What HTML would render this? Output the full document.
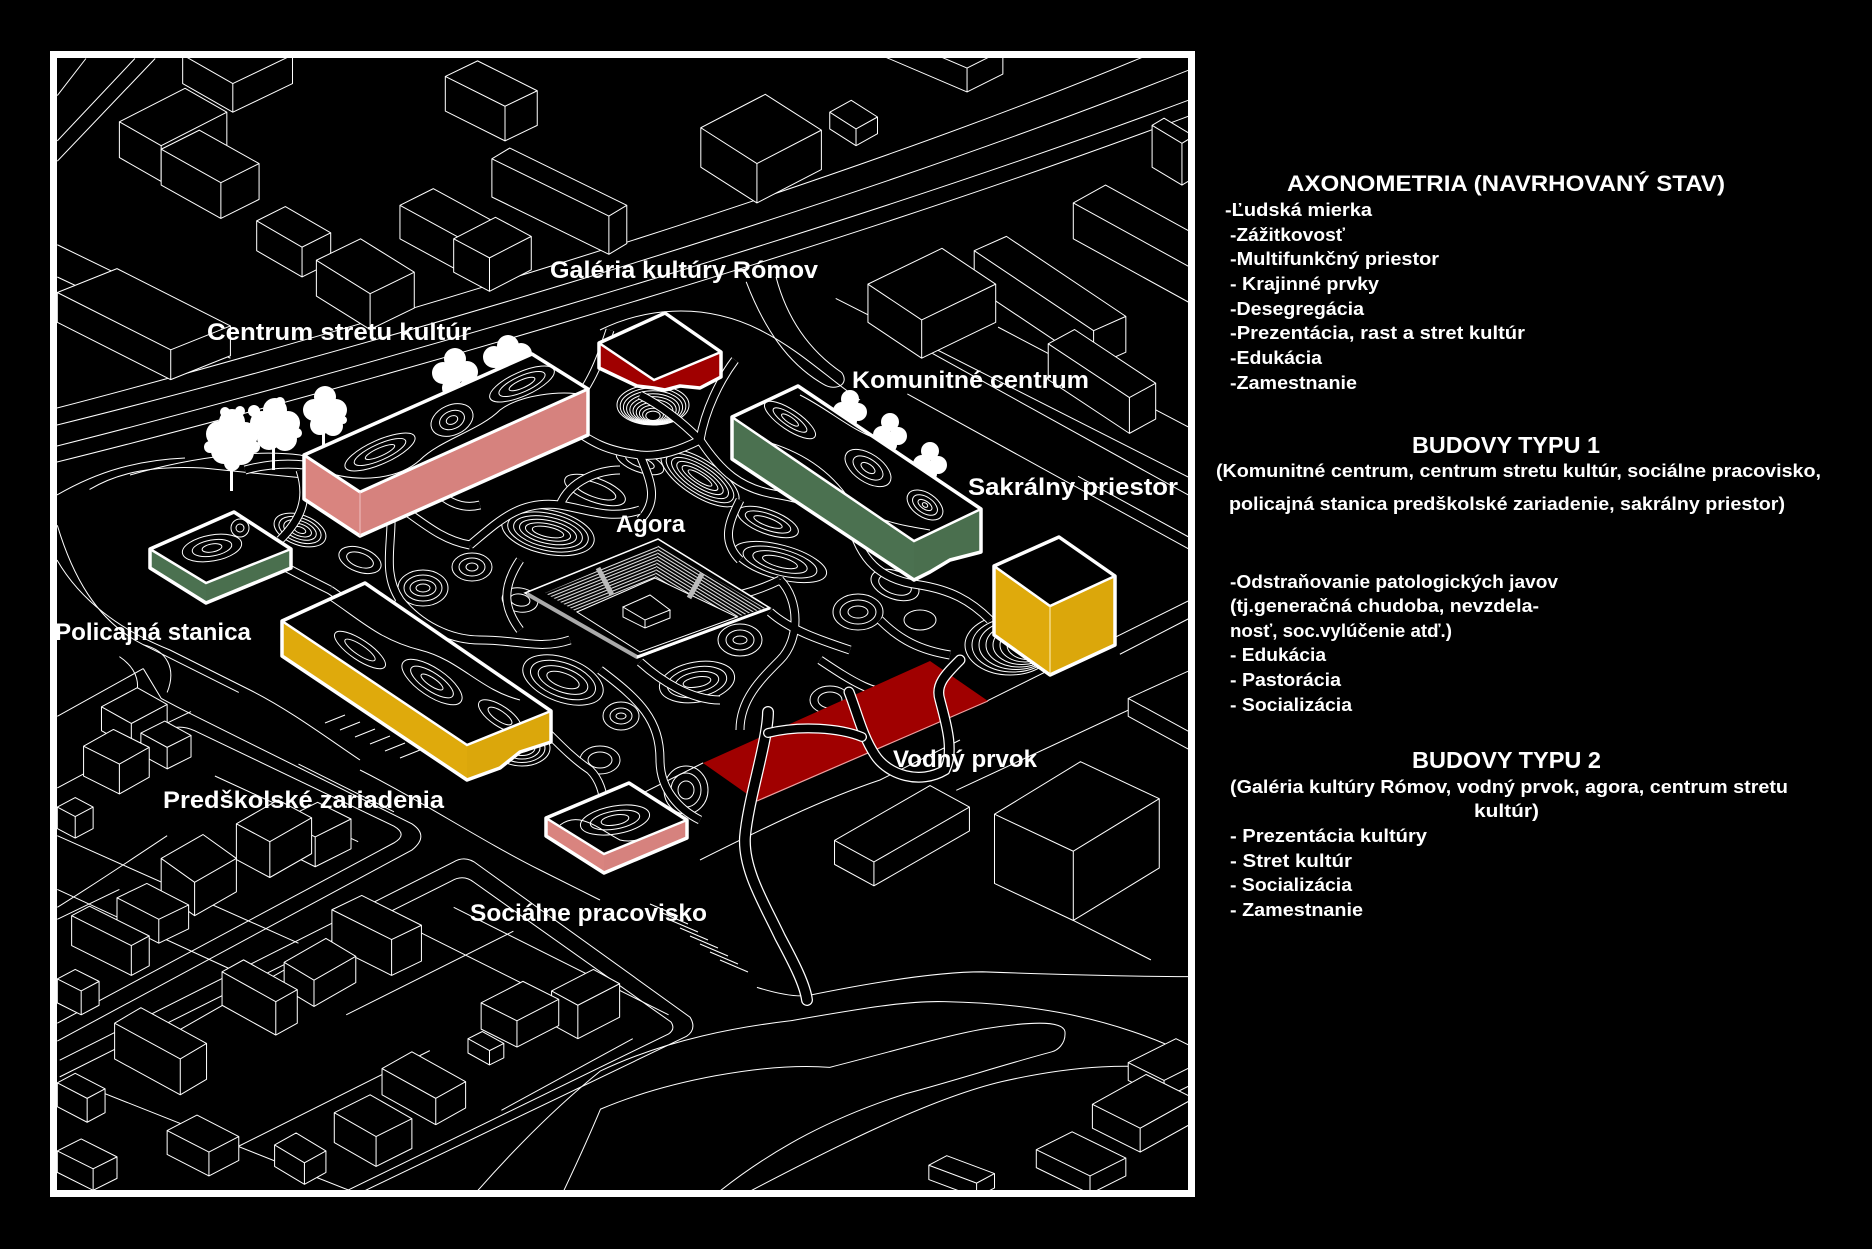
<!DOCTYPE html>
<html><head><meta charset="utf-8">
<style>
html,body{margin:0;padding:0;background:#000;}
svg{display:block;}
text{font-family:"Liberation Sans","DejaVu Sans",sans-serif;font-weight:bold;fill:#fff;}
</style></head>
<body>
<svg width="1872" height="1249" viewBox="0 0 1872 1249" xmlns="http://www.w3.org/2000/svg">
<defs>
<clipPath id="fr"><rect x="57" y="58" width="1131" height="1132"/></clipPath>
<clipPath id="cC"><polygon points="304,455 532,354 588,389 360,492"/></clipPath>
<clipPath id="cK"><polygon points="732,417 798,386 981,509 914,541"/></clipPath>
<clipPath id="cP"><polygon points="282,621 365,583 551,711 467,745"/></clipPath>
<clipPath id="cS"><polygon points="546,818 629,783 687,820 604,854"/></clipPath>
<clipPath id="cL"><polygon points="150,549 234,512 291,549 206,583"/></clipPath>
<pattern id="hA" width="3" height="3" patternUnits="userSpaceOnUse" patternTransform="rotate(-22)"><rect width="3" height="1.1" fill="#e0e0e0"/></pattern>
<pattern id="hB" width="3" height="3" patternUnits="userSpaceOnUse" patternTransform="rotate(31.6)"><rect width="3" height="1.1" fill="#e0e0e0"/></pattern>
<g id="walks">
<path d="M245,470 C300,455 350,470 390,500 C420,520 440,540 470,545"/>
<path d="M390,500 C395,540 380,570 400,600 C420,625 450,640 480,640"/>
<path d="M470,545 C500,520 520,500 560,505 C590,510 610,520 640,510"/>
<path d="M560,420 C590,440 600,450 640,455 C660,457 680,450 700,440"/>
<path d="M640,455 C650,480 660,500 640,520"/>
<path d="M700,440 C720,470 740,490 780,495 C810,500 830,510 850,520"/>
<path d="M740,500 C730,520 720,540 740,560"/>
<path d="M480,640 C520,640 540,650 570,640"/>
<path d="M600,670 C640,700 660,720 660,760 C660,790 680,810 700,820"/>
<path d="M780,580 C800,600 800,640 780,660 C760,680 740,700 740,730"/>
<path d="M850,520 C860,560 880,580 920,585 C950,590 970,600 990,620"/>
<path d="M700,600 C730,600 760,590 780,580"/>
<path d="M510,700 C540,720 560,750 590,770 C610,790 600,820 620,840"/>
<path d="M330,590 C360,610 390,640 420,650 C450,660 470,690 500,700"/>
<path d="M820,660 C850,680 880,700 900,690"/>
<path d="M610,330 C600,360 590,390 560,420"/>
<path d="M480,470 C500,450 520,430 560,420"/>
<path d="M880,540 C900,520 920,520 950,540"/>
<path d="M700,440 C705,410 720,380 735,360"/>
<path d="M240,540 C270,560 300,575 330,590"/>
<path d="M520,560 C500,590 505,610 520,630"/>
<path d="M770,612 C790,630 820,640 850,650"/>
<path d="M640,662 C660,680 690,700 720,700"/>
<path d="M560,505 C570,480 600,470 620,470"/>
<path d="M400,600 C380,640 390,680 420,700"/>
<path d="M300,470 C310,500 300,520 280,540"/>
<path d="M700,440 C680,420 660,405 640,395"/>
<path d="M430,480 C440,500 460,510 480,505"/>
<path d="M880,620 C900,640 920,650 950,655"/>
</g>
</defs>
<rect width="1872" height="1249" fill="#000"/>

<g clip-path="url(#fr)">
<g fill="none" stroke="#fff" stroke-width="1">
<path d="M57,408 C300,345 800,200 1143,57"/>
<path d="M57,425 C300,365 800,225 1189,70"/>
<path d="M57,446 C300,385 800,245 1189,100"/>
<path d="M57,462 C300,402 800,262 1189,116"/>
</g>
<g transform="scale(1.19388)" fill="none" stroke="#fff" stroke-width="0.85">
<path d="M72,49 L48,80 M113,49 L48,118 M130,49 L48,135 M48,232 L193,300 M48,205 L120,240"/>
<path d="M625,236 C640,275 660,305 690,322 C700,328 712,322 705,312 C680,295 660,270 650,232"/>
<path d="M781,296 L996,415 M836,274 L996,358 M760,330 L996,460 M903,399 L996,450 M700,250 L996,400"/>
<path d="M827,587 L996,503 M801,662 L996,571 M938,548 L996,518 M899,771 L964,804 M589,639 L503,682"/>
<path d="M48,872 L345,712 Q360,700 345,690 L160,598 Q148,592 135,585 L120,560"/>
<path d="M48,857 L330,706 Q342,699 330,692 L163,612 Q150,606 138,612 L48,660"/>
<path d="M50,888 L380,722 Q390,716 400,724 L578,852 Q584,862 575,868 L300,1000"/>
<path d="M50,902 L378,738 Q388,732 397,739 L562,856 Q566,862 560,866 L285,1000"/>
<path d="M48,700 L250,790 M48,745 L200,815 M60,905 L300,1000 M48,770 L100,745 M120,880 L260,800 M200,960 L360,880 M250,640 L330,680 M180,650 L300,705"/>
<path d="M330,770 L500,855 M290,850 L430,780 M420,930 L530,870 M380,760 L560,850 M110,620 L160,596 M48,600 L120,560"/>
<path d="M396,1002 Q450,940 503,897 C560,870 620,860 662,855 C720,845 760,838 791,839 C840,840 870,845 887,848 C930,856 970,870 996,884"/>
<path d="M470,1002 Q490,960 503,929 C560,905 640,890 695,894 C750,880 790,868 823,862 C860,856 890,854 892,864 C893,875 885,880 881,881 C840,892 800,905 759,916 C700,935 650,960 600,1000"/>
<path d="M634,827 C650,832 665,835 676,834 C720,825 780,814 823,814 C880,816 940,818 996,818"/>
<path d="M624,1000 C700,960 780,920 839,906 C900,892 950,890 996,897"/>
<path d="M48,760 C80,740 110,720 140,700"/>
<path d="M75,410 C100,395 130,390 170,392 L250,400 M48,440 C60,480 80,520 120,540 L200,580"/>
<path d="M120,540 C140,545 148,560 140,580 M100,550 C115,560 120,575 110,590"/>
</g>
<g stroke="#fff" stroke-width="1">
<path d="M670,920 l28,12 M680,928 l28,12 M690,936 l28,12 M700,944 l28,12 M710,952 l28,12 M720,960 l28,12 M660,912 l28,12 M650,904 l28,12"/>
<path d="M345,715 l-20,8 M360,722 l-20,8 M375,729 l-20,8 M390,736 l-20,8 M405,743 l-20,8 M420,750 l-20,8"/>
</g>
<g transform="scale(1.19388)" fill="#000" stroke="#fff" stroke-width="0.85" stroke-linejoin="round">
<path d="M153,70 l42,24 l50,-24 l0,-24 l-42,-24 l-50,24 z m0,-24 l42,24 l50,-24 m-50,24 l0,24"/>
<path d="M735,45 l75,32 l30,-15 l0,-20 l-75,-32 l-30,15 z m0,-20 l75,32 l30,-15 m-30,15 l0,20"/>
<path d="M373,93 l50,25 l27,-13 l0,-29 l-50,-25 l-27,13 z m0,-29 l50,25 l27,-13 m-27,13 l0,29"/>
<path d="M695,108 l22,14 l18,-10 l0,-14 l-22,-14 l-18,10 z m0,-14 l22,14 l18,-10 m-18,10 l0,14"/>
<path d="M100,132 l35,20 l55,-28 l0,-30 l-35,-20 l-55,28 z m0,-30 l35,20 l55,-28 m-55,28 l0,30"/>
<path d="M587,140 l47,30 l54,-28 l0,-33 l-47,-30 l-54,28 z m0,-33 l47,30 l54,-28 m-54,28 l0,33"/>
<path d="M965,140 l25,15 l10,-6 l0,-35 l-25,-15 l-10,6 z m0,-35 l25,15 l10,-6 m-10,6 l0,35"/>
<path d="M135,155 l50,28 l32,-16 l0,-30 l-50,-28 l-32,16 z m0,-30 l50,28 l32,-16 m-32,16 l0,30"/>
<path d="M412,165 l98,48 l15,-9 l0,-32 l-98,-48 l-15,9 z m0,-32 l98,48 l15,-9 m-15,9 l0,32"/>
<path d="M899,200 l100,55 l27,-15 l0,-30 l-100,-55 l-27,15 z m0,-30 l100,55 l27,-15 m-27,15 l0,30"/>
<path d="M335,200 l55,30 l28,-14 l0,-28 l-55,-30 l-28,14 z m0,-28 l55,30 l28,-14 m-28,14 l0,28"/>
<path d="M215,210 l38,22 l24,-12 l0,-25 l-38,-22 l-24,12 z m0,-25 l38,22 l24,-12 m-24,12 l0,25"/>
<path d="M380,228 l30,16 l35,-18 l0,-28 l-30,-16 l-35,18 z m0,-28 l30,16 l35,-18 m-35,18 l0,28"/>
<path d="M816,240 l100,67 l27,-12 l0,-30 l-100,-67 l-27,12 z m0,-30 l100,67 l27,-12 m-27,12 l0,30"/>
<path d="M265,248 l45,28 l37,-18 l0,-30 l-45,-28 l-37,18 z m0,-30 l45,28 l37,-18 m-37,18 l0,30"/>
<path d="M727,270 l45,30 l62,-30 l0,-32 l-45,-30 l-62,30 z m0,-32 l45,30 l62,-30 m-62,30 l0,32"/>
<path d="M48,270 l95,48 l50,-20 l0,-25 l-95,-48 l-50,20 z m0,-25 l95,48 l50,-20 m-50,20 l0,25"/>
<path d="M878,318 l68,45 l22,-12 l0,-30 l-68,-45 l-22,12 z m0,-30 l68,45 l22,-12 m-22,12 l0,30"/>
<path d="M945,600 l55,30 l55,-25 l0,-15 l-55,-30 l-55,25 z m0,-15 l55,30 l55,-25 m-55,25 l0,15"/>
<path d="M85,612 l25,14 l30,-16 l0,-20 l-25,-14 l-30,16 z m0,-20 l25,14 l30,-16 m-30,16 l0,20"/>
<path d="M118,632 l22,12 l20,-10 l0,-18 l-22,-12 l-20,10 z m0,-18 l22,12 l20,-10 m-20,10 l0,18"/>
<path d="M70,650 l30,15 l25,-14 l0,-25 l-30,-15 l-25,14 z m0,-25 l30,15 l25,-14 m-25,14 l0,25"/>
<path d="M48,694 l15,8 l15,-8 l0,-18 l-15,-8 l-15,8 z m0,-18 l15,8 l15,-8 m-15,8 l0,18"/>
<path d="M236,712 l28,14 l30,-15 l0,-25 l-28,-14 l-30,15 z m0,-25 l28,14 l30,-15 m-30,15 l0,25"/>
<path d="M198,720 l28,15 l35,-20 l0,-30 l-28,-15 l-35,20 z m0,-30 l28,15 l35,-20 m-35,20 l0,30"/>
<path d="M699,724 l33,18 l80,-46 l0,-20 l-33,-18 l-80,46 z m0,-20 l33,18 l80,-46 m-80,46 l0,20"/>
<path d="M833,740 l66,31 l72,-44 l0,-58 l-66,-31 l-72,44 z m0,-58 l66,31 l72,-44 m-72,44 l0,58"/>
<path d="M135,747 l28,20 l35,-20 l0,-28 l-28,-20 l-35,20 z m0,-28 l28,20 l35,-20 m-35,20 l0,28"/>
<path d="M98,772 l35,18 l25,-12 l0,-20 l-35,-18 l-25,12 z m0,-20 l35,18 l25,-12 m-25,12 l0,20"/>
<path d="M278,792 l50,25 l25,-12 l0,-30 l-50,-25 l-25,12 z m0,-30 l50,25 l25,-12 m-25,12 l0,30"/>
<path d="M60,792 l50,25 l15,-8 l0,-25 l-50,-25 l-15,8 z m0,-25 l50,25 l15,-8 m-15,8 l0,25"/>
<path d="M238,828 l25,15 l35,-20 l0,-22 l-25,-15 l-35,20 z m0,-22 l25,15 l35,-20 m-35,20 l0,22"/>
<path d="M48,840 l20,10 l15,-8 l0,-20 l-20,-10 l-15,8 z m0,-20 l20,10 l15,-8 m-15,8 l0,20"/>
<path d="M186,842 l45,25 l18,-10 l0,-28 l-45,-25 l-18,10 z m0,-28 l45,25 l18,-10 m-18,10 l0,28"/>
<path d="M462,858 l22,12 l35,-18 l0,-28 l-22,-12 l-35,18 z m0,-28 l22,12 l35,-18 m-35,18 l0,28"/>
<path d="M403,862 l30,15 l35,-18 l0,-22 l-30,-15 l-35,18 z m0,-22 l30,15 l35,-18 m-35,18 l0,22"/>
<path d="M392,882 l18,10 l12,-6 l0,-12 l-18,-10 l-12,6 z m0,-12 l18,10 l12,-6 m-12,6 l0,12"/>
<path d="M96,887 l55,30 l22,-13 l0,-30 l-55,-30 l-22,13 z m0,-30 l55,30 l22,-13 m-22,13 l0,30"/>
<path d="M945,905 l30,15 l40,-20 l0,-15 l-30,-15 l-40,20 z m0,-15 l30,15 l40,-20 m-40,20 l0,15"/>
<path d="M320,917 l45,25 l25,-14 l0,-22 l-45,-25 l-25,14 z m0,-22 l45,25 l25,-14 m-25,14 l0,22"/>
<path d="M48,927 l25,13 l15,-8 l0,-20 l-25,-13 l-15,8 z m0,-20 l25,13 l15,-8 m-15,8 l0,20"/>
<path d="M915,945 l40,20 l45,-25 l0,-20 l-40,-20 l-45,25 z m0,-20 l40,20 l45,-25 m-45,25 l0,20"/>
<path d="M280,957 l35,20 l30,-15 l0,-25 l-35,-20 l-30,15 z m0,-25 l35,20 l30,-15 m-30,15 l0,25"/>
<path d="M140,967 l35,18 l25,-13 l0,-20 l-35,-18 l-25,13 z m0,-20 l35,18 l25,-13 m-25,13 l0,20"/>
<path d="M230,977 l25,15 l18,-10 l0,-18 l-25,-15 l-18,10 z m0,-18 l25,15 l18,-10 m-18,10 l0,18"/>
<path d="M868,978 l45,22 l30,-15 l0,-15 l-45,-22 l-30,15 z m0,-15 l45,22 l30,-15 m-30,15 l0,15"/>
<path d="M48,982 l30,15 l20,-10 l0,-18 l-30,-15 l-20,10 z m0,-18 l30,15 l20,-10 m-20,10 l0,18"/>
<path d="M778,988 l40,15 l15,-8 l0,-12 l-40,-15 l-15,8 z m0,-12 l40,15 l15,-8 m-15,8 l0,12"/>
</g>

<g fill="none" stroke="#fff" stroke-width="1">
<ellipse cx="653" cy="405" rx="36" ry="20"/><ellipse cx="653" cy="406.2" rx="32.8" ry="18.3"/><ellipse cx="653" cy="407.4" rx="29.6" ry="16.6"/><ellipse cx="653" cy="408.6" rx="26.4" ry="14.9"/><ellipse cx="653" cy="409.8" rx="23.2" ry="13.2"/><ellipse cx="653" cy="411" rx="20" ry="11.5"/><ellipse cx="653" cy="412.2" rx="16.8" ry="9.8"/><ellipse cx="653" cy="413.4" rx="13.6" ry="8.1"/><ellipse cx="653" cy="414.6" rx="10.4" ry="6.4"/><ellipse cx="653" cy="415.8" rx="7.2" ry="4.7"/>
<ellipse cx="1010" cy="645" rx="45" ry="30"/><ellipse cx="1013" cy="645" rx="41" ry="27"/><ellipse cx="1016" cy="645" rx="37" ry="24.5"/><ellipse cx="1019" cy="645" rx="33" ry="22"/><ellipse cx="1022" cy="645" rx="29" ry="19.5"/><ellipse cx="1025" cy="645" rx="25" ry="17"/><ellipse cx="1028" cy="645" rx="21" ry="14.5"/><ellipse cx="1031" cy="645" rx="17" ry="12"/>
<g transform="translate(700,478) rotate(33)"><ellipse rx="45" ry="18"/><ellipse rx="39" ry="15"/><ellipse rx="33" ry="12"/><ellipse rx="27" ry="9"/><ellipse rx="21" ry="6"/><ellipse rx="14" ry="3.5"/></g>
<g transform="translate(548,532) rotate(12)"><ellipse rx="47" ry="22"/><ellipse rx="41" ry="18.5"/><ellipse rx="35" ry="15"/><ellipse rx="29" ry="11.5"/><ellipse rx="23" ry="8"/><ellipse rx="16" ry="5"/></g>
<g transform="translate(595,490) rotate(20)"><ellipse rx="32" ry="12"/><ellipse rx="22" ry="7"/></g>
<g transform="translate(768,522) rotate(20)"><ellipse rx="32" ry="12"/><ellipse rx="24" ry="8"/><ellipse rx="15" ry="4"/></g>
<g transform="translate(780,562) rotate(15)"><ellipse rx="48" ry="17"/><ellipse rx="38" ry="13"/><ellipse rx="28" ry="9"/><ellipse rx="18" ry="5"/></g>
<g transform="translate(858,612)"><ellipse rx="25" ry="18"/><ellipse rx="18" ry="12"/><ellipse rx="10" ry="6"/></g>
<g transform="translate(563,680) rotate(20)"><ellipse rx="42" ry="22"/><ellipse rx="34" ry="17"/><ellipse rx="26" ry="12"/><ellipse rx="17" ry="7"/></g>
<g transform="translate(300,530) rotate(20)"><ellipse rx="27" ry="15"/><ellipse rx="22" ry="12"/><ellipse rx="17" ry="9"/><ellipse rx="12" ry="6"/><ellipse rx="6" ry="3"/></g>
<g transform="translate(423,588)"><ellipse rx="25" ry="18"/><ellipse rx="19" ry="13"/><ellipse rx="13" ry="8"/><ellipse rx="7" ry="4"/></g>
<g transform="translate(522,748)"><ellipse rx="28" ry="18"/><ellipse rx="23" ry="14.5"/><ellipse rx="18" ry="11"/><ellipse rx="13" ry="7.5"/><ellipse rx="8" ry="4"/></g>
<g transform="translate(697,682) rotate(-10)"><ellipse rx="38" ry="20"/><ellipse rx="30" ry="15"/><ellipse rx="22" ry="10"/><ellipse rx="14" ry="5"/></g>
<g transform="translate(686,790)"><ellipse rx="22" ry="24"/><ellipse rx="15" ry="17"/><ellipse rx="8" ry="9"/></g>
<g transform="translate(472,567)"><ellipse rx="20" ry="14"/><ellipse rx="13" ry="9"/><ellipse rx="6" ry="4"/></g>
<g transform="translate(895,585) rotate(20)"><ellipse rx="25" ry="14"/><ellipse rx="17" ry="9"/></g>
<g transform="translate(621,716)"><ellipse rx="18" ry="14"/><ellipse rx="11" ry="8"/><ellipse rx="5" ry="3"/></g>
<g transform="translate(740,640)"><ellipse rx="22" ry="16"/><ellipse rx="14" ry="10"/><ellipse rx="7" ry="4"/></g>
<g transform="translate(830,700)"><ellipse rx="20" ry="14"/><ellipse rx="12" ry="8"/></g>
<g transform="translate(360,560) rotate(20)"><ellipse rx="22" ry="12"/><ellipse rx="14" ry="7"/></g>
<g transform="translate(470,470) rotate(-20)"><ellipse rx="25" ry="12"/><ellipse rx="15" ry="6"/></g>
<g transform="translate(760,430) rotate(30)"><ellipse rx="22" ry="11"/><ellipse rx="13" ry="6"/></g>
<g transform="translate(450,720) rotate(20)"><ellipse rx="22" ry="11"/><ellipse rx="13" ry="6"/></g>
<g transform="translate(640,462) rotate(20)"><ellipse rx="25" ry="10"/><ellipse rx="15" ry="5"/></g>
<g transform="translate(820,470) rotate(30)"><ellipse rx="20" ry="9"/><ellipse rx="11" ry="4"/></g>
<g transform="translate(380,640)"><ellipse rx="18" ry="12"/><ellipse rx="10" ry="6"/></g>
<g transform="translate(600,760)"><ellipse rx="20" ry="14"/><ellipse rx="12" ry="8"/></g>
<g transform="translate(520,600) rotate(10)"><ellipse rx="18" ry="12"/><ellipse rx="10" ry="6"/></g>
<g transform="translate(920,620)"><ellipse rx="16" ry="10"/></g>
<path d="M130,475 C200,455 260,450 300,455 L360,470"/>
<path d="M57,495 C100,470 140,460 185,458"/>
<path d="M57,560 C80,600 120,630 170,650 L250,690 C290,710 330,740 360,760"/>
<path d="M600,330 C640,310 700,300 760,330 C800,350 830,380 860,400"/>
<path d="M360,770 C420,800 480,840 540,870 L600,900"/>
<path d="M700,860 C760,830 820,800 880,780 L960,740"/>
</g>

<use href="#walks" fill="none" stroke="#fff" stroke-width="9"/>
<use href="#walks" fill="none" stroke="#000" stroke-width="7"/>

<polygon points="525,593 658,539 770,608 637,658" fill="#000" stroke="#fff" stroke-width="1.5"/>
<polygon points="545,593 658,545 655,578 577,612" fill="url(#hA)"/>
<polygon points="658,545 765,608 737,617 655,578" fill="url(#hB)"/>
<polygon points="577,612 655,578 737,617 640,652" fill="#000" stroke="#fff" stroke-width="1"/>
<line x1="598" y1="568" x2="612" y2="595" stroke="#bbb" stroke-width="5"/>
<line x1="702" y1="574" x2="689" y2="598" stroke="#bbb" stroke-width="5"/>
<line x1="527" y1="594" x2="637" y2="657" stroke="#aaa" stroke-width="4"/>
<line x1="637" y1="657" x2="770" y2="608" stroke="#fff" stroke-width="3"/>
<path d="M623,607 L650,595 L670,610 L645,620 Z M623,607 L623,617 L645,628 L670,618 L670,610 M645,620 L645,628" fill="#000" stroke="#fff" stroke-width="1"/>

<polygon points="703,763 930,661 988,701 757,801" fill="#a00000"/>
<line x1="757" y1="801" x2="988" y2="701" stroke="#f0a0a0" stroke-width="1.2"/>
<g fill="none" stroke-linecap="round">
<path d="M768,712 C768,740 748,800 745,837 C743,870 765,905 780,937 C795,965 805,985 807,1000" stroke="#fff" stroke-width="12"/>
<path d="M768,712 C768,740 748,800 745,837 C743,870 765,905 780,937 C795,965 805,985 807,1000" stroke="#000" stroke-width="9.5"/>
<path d="M849,692 C858,715 862,735 875,755 C888,775 920,785 945,770 C955,750 945,720 940,700 C935,685 945,675 960,660" stroke="#fff" stroke-width="11"/>
<path d="M849,692 C858,715 862,735 875,755 C888,775 920,785 945,770 C955,750 945,720 940,700 C935,685 945,675 960,660" stroke="#000" stroke-width="8.5"/>
<path d="M768,733 C800,725 840,728 862,737" stroke="#fff" stroke-width="10"/>
<path d="M768,733 C800,725 840,728 862,737" stroke="#000" stroke-width="7.5"/>
</g>

<g fill="#fff">
<rect x="230" y="455" width="3" height="36"/><rect x="272" y="440" width="3" height="30"/><rect x="322" y="430" width="3" height="16"/>
<circle cx="232" cy="422" r="13"/><circle cx="219" cy="434" r="13"/><circle cx="245" cy="435" r="13"/><circle cx="224" cy="451" r="13"/><circle cx="241" cy="452" r="13"/><circle cx="232" cy="463" r="8"/><circle cx="210" cy="447" r="6"/><circle cx="254" cy="447" r="6"/><circle cx="232" cy="437" r="12"/><circle cx="225" cy="412" r="5"/><circle cx="240" cy="411" r="5"/>
<circle cx="275" cy="410" r="12"/><circle cx="262" cy="423" r="12"/><circle cx="288" cy="423" r="12"/><circle cx="269" cy="438" r="12"/><circle cx="285" cy="439" r="12"/><circle cx="254" cy="411" r="6"/><circle cx="297" cy="433" r="5"/><circle cx="275" cy="427" r="11"/><circle cx="280" cy="402" r="5"/>
<circle cx="325" cy="397" r="11"/><circle cx="314" cy="410" r="11"/><circle cx="336" cy="410" r="11"/><circle cx="320" cy="425" r="10"/><circle cx="333" cy="426" r="10"/><circle cx="325" cy="412" r="9"/><circle cx="343" cy="420" r="4"/>
<circle cx="455" cy="359" r="11"/><circle cx="443" cy="373" r="11"/><circle cx="467" cy="372" r="11"/><circle cx="452" cy="388" r="10"/><circle cx="468" cy="388" r="9"/><circle cx="455" cy="375" r="9"/>
<circle cx="508" cy="346" r="11"/><circle cx="494" cy="357" r="11"/><circle cx="521" cy="354" r="11"/><circle cx="505" cy="366" r="10"/><circle cx="528" cy="366" r="8"/><circle cx="508" cy="356" r="8"/>
<circle cx="850" cy="399" r="9"/><circle cx="842" cy="411" r="9"/><circle cx="858" cy="412" r="9"/><circle cx="850" cy="421" r="7"/>
<circle cx="890" cy="422" r="9"/><circle cx="882" cy="435" r="9"/><circle cx="898" cy="436" r="9"/><circle cx="890" cy="445" r="7"/>
<circle cx="930" cy="451" r="9"/><circle cx="922" cy="464" r="9"/><circle cx="938" cy="465" r="9"/><circle cx="930" cy="474" r="7"/>
</g>

<polygon points="599,343 654,380 654,388 637,386 599,368" fill="#a00000"/>
<polygon points="654,380 721,352 721,377 700,388 680,386 665,390 654,388" fill="#a00000"/>
<polygon points="665,313 721,352 654,380 599,343" fill="#000"/>
<polygon points="599,343 665,313 721,352 721,377 700,388 680,386 665,390 654,388 637,386 599,368" fill="none" stroke="#fff" stroke-width="3.5" stroke-linejoin="round"/>
<polyline points="599,343 654,380 721,352" fill="none" stroke="#fff" stroke-width="2.5"/>

<polygon points="304,455 360,492 360,536 304,499" fill="#d9847f"/>
<polygon points="360,492 588,389 588,435 360,536" fill="#d6827e"/>
<polygon points="304,455 532,354 588,389 360,492" fill="#000"/>
<g clip-path="url(#cC)" fill="none" stroke="#fff" stroke-width="1">
<g transform="translate(380,452) rotate(-24)"><ellipse rx="38" ry="12"/><ellipse rx="28" ry="8"/><ellipse rx="16" ry="4"/></g>
<g transform="translate(452,420) rotate(-24)"><ellipse rx="22" ry="15"/><ellipse rx="13" ry="9"/><ellipse rx="6" ry="4"/></g>
<g transform="translate(522,384) rotate(-24)"><ellipse rx="35" ry="12"/><ellipse rx="25" ry="8"/><ellipse rx="14" ry="4"/></g>
<path d="M320,470 C360,485 400,478 420,460 C440,440 480,430 500,410 C520,395 560,390 585,395"/>
</g>
<polygon points="304,455 532,354 588,389 588,435 360,536 304,499" fill="none" stroke="#fff" stroke-width="3.5" stroke-linejoin="round"/>
<polyline points="304,455 360,492 588,389" fill="none" stroke="#fff" stroke-width="3"/>
<line x1="360" y1="492" x2="360" y2="536" stroke="#f0c0c0" stroke-width="1"/>

<polygon points="150,549 206,583 206,603 150,568" fill="#4b7150"/>
<polygon points="206,583 291,549 291,568 206,603" fill="#4a6f4e"/>
<polygon points="150,549 234,512 291,549 206,583" fill="#000"/>
<g clip-path="url(#cL)" fill="none" stroke="#fff" stroke-width="1">
<g transform="translate(212,548) rotate(-10)"><ellipse rx="30" ry="13"/><ellipse rx="20" ry="8"/><ellipse rx="10" ry="4"/></g>
<circle cx="240" cy="528" r="9"/><circle cx="240" cy="528" r="4"/>
</g>
<polygon points="150,549 234,512 291,549 291,568 206,603 150,568" fill="none" stroke="#fff" stroke-width="3.5" stroke-linejoin="round"/>
<polyline points="150,549 206,583 291,549" fill="none" stroke="#fff" stroke-width="2.5"/>

<polygon points="282,621 467,745 467,780 282,656" fill="#dfaa0c"/>
<polygon points="467,745 551,711 551,742 520,752 500,768 467,780" fill="#dba70b"/>
<polygon points="282,621 365,583 551,711 467,745" fill="#000"/>
<g clip-path="url(#cP)" fill="none" stroke="#fff" stroke-width="1">
<g transform="translate(360,650) rotate(34)"><ellipse rx="30" ry="10"/><ellipse rx="18" ry="5"/></g>
<g transform="translate(432,682) rotate(34)"><ellipse rx="35" ry="14"/><ellipse rx="25" ry="9"/><ellipse rx="13" ry="4"/></g>
<g transform="translate(500,716) rotate(34)"><ellipse rx="25" ry="10"/><ellipse rx="14" ry="5"/></g>
<path d="M330,600 C360,620 380,640 420,650 C460,660 480,690 520,700"/>
</g>
<polygon points="282,621 365,583 551,711 551,742 520,752 500,768 467,780 282,656" fill="none" stroke="#fff" stroke-width="3.5" stroke-linejoin="round"/>
<polyline points="282,621 467,745 551,711" fill="none" stroke="#fff" stroke-width="2.5"/>

<polygon points="732,417 914,541 914,580 732,459" fill="#4b7150"/>
<polygon points="914,541 981,509 981,552 950,560 930,572 914,580" fill="#4a6f4e"/>
<polygon points="732,417 798,386 981,509 914,541" fill="#000"/>
<g clip-path="url(#cK)" fill="none" stroke="#fff" stroke-width="1">
<g transform="translate(790,420) rotate(34)"><ellipse rx="30" ry="10"/><ellipse rx="20" ry="6"/><ellipse rx="10" ry="3"/></g>
<g transform="translate(868,468) rotate(34)"><ellipse rx="26" ry="14"/><ellipse rx="17" ry="9"/><ellipse rx="8" ry="4"/></g>
<g transform="translate(925,505) rotate(34)"><ellipse rx="20" ry="12"/><ellipse rx="14" ry="8"/><ellipse rx="8" ry="4"/><ellipse rx="3" ry="2"/></g>
<path d="M760,440 C800,450 830,470 850,500 C870,520 900,525 930,530"/>
<path d="M800,395 C830,410 850,430 880,440 C910,450 930,470 960,490"/>
</g>
<polygon points="732,417 798,386 981,509 981,552 950,560 930,572 914,580 732,459" fill="none" stroke="#fff" stroke-width="3.5" stroke-linejoin="round"/>
<polyline points="732,417 914,541 981,509" fill="none" stroke="#fff" stroke-width="2.5"/>

<polygon points="994,566 1050,606 1050,675 994,635" fill="#dfaa0c"/>
<polygon points="1050,606 1115,576 1115,645 1050,675" fill="#dba70b"/>
<polygon points="994,566 1059,537 1115,576 1050,606" fill="#000"/>
<polygon points="994,566 1059,537 1115,576 1115,645 1050,675 994,635" fill="none" stroke="#fff" stroke-width="3.5" stroke-linejoin="round"/>
<polyline points="994,566 1050,606 1115,576" fill="none" stroke="#fff" stroke-width="2.5"/>
<line x1="1050" y1="606" x2="1050" y2="675" stroke="#fff3c0" stroke-width="1"/>

<polygon points="546,818 604,854 604,873 546,836" fill="#d9847f"/>
<polygon points="604,854 687,820 687,838 604,873" fill="#d6827e"/>
<polygon points="546,818 629,783 687,820 604,854" fill="#000"/>
<g clip-path="url(#cS)" fill="none" stroke="#fff" stroke-width="1">
<g transform="translate(615,820) rotate(-10)"><ellipse rx="35" ry="14"/><ellipse rx="25" ry="9"/><ellipse rx="14" ry="5"/></g>
<path d="M560,825 C580,810 600,830 620,840 C640,845 660,830 680,825"/>
</g>
<polygon points="546,818 629,783 687,820 687,838 604,873 546,836" fill="none" stroke="#fff" stroke-width="3.5" stroke-linejoin="round"/>
<polyline points="546,818 604,854 687,820" fill="none" stroke="#fff" stroke-width="2.5"/>

<g font-size="24">
<text x="550" y="278" textLength="268" lengthAdjust="spacingAndGlyphs">Galéria kultúry Rómov</text>
<text x="207" y="340" textLength="264" lengthAdjust="spacingAndGlyphs">Centrum stretu kultúr</text>
<text x="852" y="388" textLength="237" lengthAdjust="spacingAndGlyphs">Komunitné centrum</text>
<text x="968" y="495" textLength="210" lengthAdjust="spacingAndGlyphs">Sakrálny priestor</text>
<text x="616" y="532" textLength="69" lengthAdjust="spacingAndGlyphs">Agora</text>
<text x="55" y="640" textLength="196" lengthAdjust="spacingAndGlyphs">Policajná stanica</text>
<text x="163" y="808" textLength="281" lengthAdjust="spacingAndGlyphs">Predškolské zariadenia</text>
<text x="893" y="767" textLength="144" lengthAdjust="spacingAndGlyphs">Vodný prvok</text>
<text x="470" y="921" textLength="237" lengthAdjust="spacingAndGlyphs">Sociálne pracovisko</text>
</g>
</g>

<rect x="53.5" y="54.5" width="1138" height="1139" fill="none" stroke="#fff" stroke-width="7"/>

<g font-size="18">
<text x="1287" y="191" font-size="22.5" textLength="438" lengthAdjust="spacingAndGlyphs">AXONOMETRIA (NAVRHOVANÝ STAV)</text>
<text x="1225" y="216" textLength="147" lengthAdjust="spacingAndGlyphs">-Ľudská mierka</text>
<text x="1230" y="241" textLength="115" lengthAdjust="spacingAndGlyphs">-Zážitkovosť</text>
<text x="1230" y="265" textLength="209" lengthAdjust="spacingAndGlyphs">-Multifunkčný priestor</text>
<text x="1230" y="290" textLength="149" lengthAdjust="spacingAndGlyphs">- Krajinné prvky</text>
<text x="1230" y="315" textLength="134" lengthAdjust="spacingAndGlyphs">-Desegregácia</text>
<text x="1230" y="339" textLength="295" lengthAdjust="spacingAndGlyphs">-Prezentácia, rast a stret kultúr</text>
<text x="1230" y="364" textLength="92" lengthAdjust="spacingAndGlyphs">-Edukácia</text>
<text x="1230" y="389" textLength="127" lengthAdjust="spacingAndGlyphs">-Zamestnanie</text>
<text x="1412" y="453" font-size="23" textLength="188" lengthAdjust="spacingAndGlyphs">BUDOVY TYPU 1</text>
<text x="1216" y="477" textLength="605" lengthAdjust="spacingAndGlyphs">(Komunitné centrum, centrum stretu kultúr, sociálne pracovisko,</text>
<text x="1229" y="510" textLength="556" lengthAdjust="spacingAndGlyphs">policajná stanica predškolské zariadenie, sakrálny priestor)</text>
<text x="1230" y="588" textLength="328" lengthAdjust="spacingAndGlyphs">-Odstraňovanie patologických javov</text>
<text x="1230" y="612" textLength="309" lengthAdjust="spacingAndGlyphs">(tj.generačná chudoba, nevzdela-</text>
<text x="1230" y="637" textLength="222" lengthAdjust="spacingAndGlyphs">nosť, soc.vylúčenie atď.)</text>
<text x="1230" y="661" textLength="96" lengthAdjust="spacingAndGlyphs">- Edukácia</text>
<text x="1230" y="686" textLength="111" lengthAdjust="spacingAndGlyphs">- Pastorácia</text>
<text x="1230" y="711" textLength="122" lengthAdjust="spacingAndGlyphs">- Socializácia</text>
<text x="1412" y="768" font-size="23" textLength="189" lengthAdjust="spacingAndGlyphs">BUDOVY TYPU 2</text>
<text x="1230" y="793" textLength="558" lengthAdjust="spacingAndGlyphs">(Galéria kultúry Rómov,  vodný prvok, agora, centrum stretu</text>
<text x="1474" y="817" textLength="65" lengthAdjust="spacingAndGlyphs">kultúr)</text>
<text x="1230" y="842" textLength="197" lengthAdjust="spacingAndGlyphs">- Prezentácia kultúry</text>
<text x="1230" y="867" textLength="122" lengthAdjust="spacingAndGlyphs">- Stret kultúr</text>
<text x="1230" y="891" textLength="122" lengthAdjust="spacingAndGlyphs">- Socializácia</text>
<text x="1230" y="916" textLength="133" lengthAdjust="spacingAndGlyphs">- Zamestnanie</text>
</g>
</svg>
</body>
</html>
